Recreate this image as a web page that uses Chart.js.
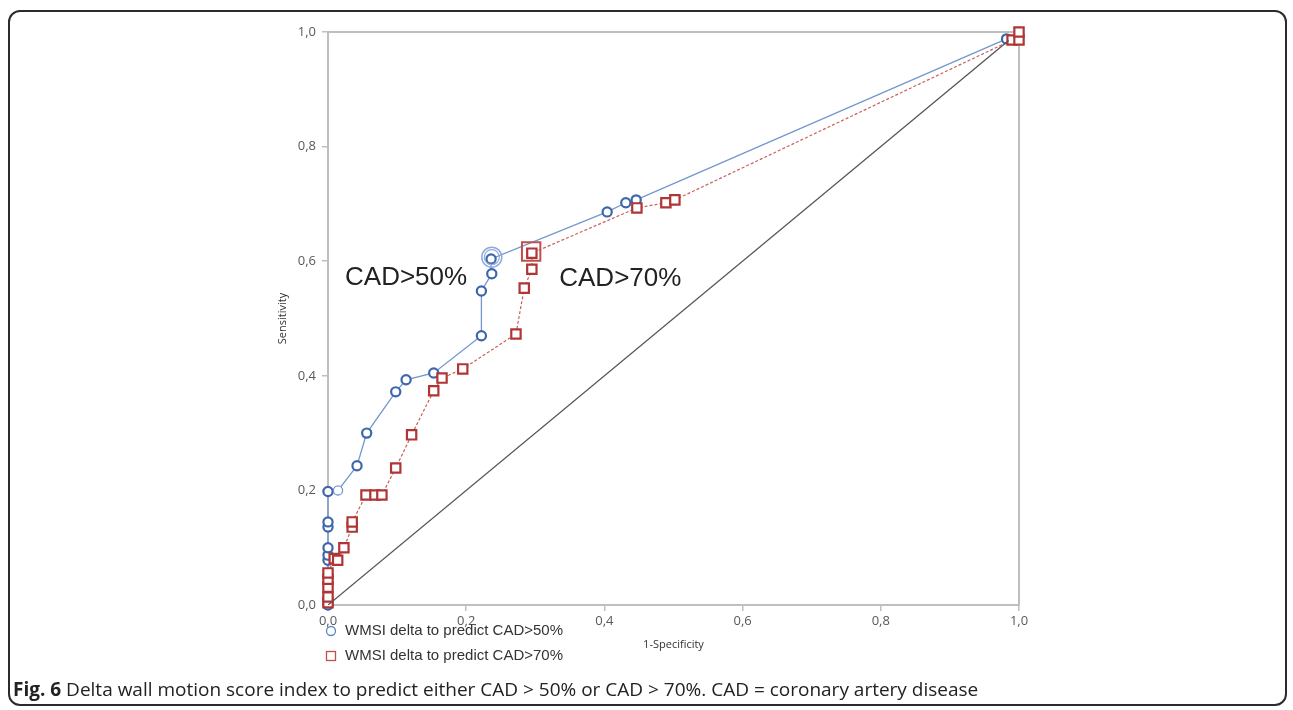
<!DOCTYPE html>
<html>
<head>
<meta charset="utf-8">
<script src="https://cdn.jsdelivr.net/npm/chart.js@4"></script>
<style>
  body { margin: 0; background: #fff; }
  #frame { position: absolute; left: 8px; top: 10px; width: 1275px; height: 692px;
           border: 2px solid #2b2b2b; border-radius: 12px; }
  #wrap { position: absolute; left: 0; top: 0; width: 1293px; height: 710px; }
  #caption { position: absolute; left: 13px; top: 676px; font-family: "Open Sans", sans-serif;
             font-size: 19px; color: #222; white-space: nowrap; letter-spacing: 0px; }
</style>
</head>
<body>
<div id="frame"></div>
<div id="wrap"><canvas id="roc" width="1293" height="710"></canvas></div>
<div id="caption"><b>Fig. 6</b> Delta wall motion score index to predict either CAD &gt; 50% or CAD &gt; 70%. CAD = coronary artery disease</div>
<script>
// ROC points
const blueX = [0, 0, 0, 0, 0, 0, 0, 0.0145, 0.042, 0.056, 0.098, 0.113, 0.153, 0.222, 0.222, 0.237, 0.236, 0.404, 0.431, 0.446, 0.982];
const blueY = [0, 0.078, 0.087, 0.100, 0.136, 0.145, 0.198, 0.200, 0.243, 0.300, 0.372, 0.393, 0.405, 0.470, 0.548, 0.578, 0.604, 0.686, 0.702, 0.707, 0.988];

const redX = [0, 0, 0, 0, 0, 0.009, 0.014, 0.023, 0.035, 0.035, 0.055, 0.068, 0.078, 0.098, 0.121, 0.153, 0.165, 0.195, 0.272, 0.284, 0.295, 0.295, 0.447, 0.489, 0.502, 0.99, 1.0, 1.0];
const redY = [0.004, 0.014, 0.031, 0.045, 0.056, 0.081, 0.078, 0.100, 0.136, 0.145, 0.192, 0.192, 0.192, 0.239, 0.297, 0.374, 0.396, 0.412, 0.473, 0.553, 0.586, 0.614, 0.693, 0.702, 0.707, 0.986, 0.986, 1.0];

// optimal cut-off points (highlighted): blue double ring, red big square
const cutX = [0.237, 0.237, 0.294];
const cutY = [0.607, 0.607, 0.617];

const refX = [0, 0.985];
const refY = [0, 0.985];

const xTicks = [0, 0.2, 0.4, 0.6, 0.8, 1.0];
const legendLabels = ['WMSI delta to predict CAD>50%', 'WMSI delta to predict CAD>70%'];
const curveLabels = ['CAD>50%', 'CAD>70%'];

const pts = (xs, ys) => xs.map((x, i) => ({x: x, y: ys[i]}));
const fmt = v => v.toFixed(1).replace('.', ',');

const boxPlugin = {
    id: 'box',
    beforeDatasetsDraw(chart) {
        const a = chart.chartArea, c = chart.ctx;
        c.save();
        c.strokeStyle = '#bfbfbf';
        c.lineWidth = 2;
        c.strokeRect(a.left, a.top, a.right - a.left, a.bottom - a.top);
        c.restore();
    },
    afterDraw(chart) {
        const c = chart.ctx, xs = chart.scales.x, ys = chart.scales.y;
        c.save();
        // curve labels
        c.font = '26px "Liberation Sans", Arial, sans-serif';
        c.fillStyle = '#222';
        c.textAlign = 'center';
        c.textBaseline = 'middle';
        c.fillText(curveLabels[0], xs.getPixelForValue(0.113), ys.getPixelForValue(0.571));
        c.fillText(curveLabels[1], xs.getPixelForValue(0.423), ys.getPixelForValue(0.569));
        // legend
        const lx = chart.chartArea.left + 3;
        const ly = chart.chartArea.bottom + 26;
        c.font = '15px "Liberation Sans", Arial, sans-serif';
        c.textAlign = 'left';
        c.fillStyle = '#333';
        c.fillText(legendLabels[0], lx + 14, ly);
        c.fillText(legendLabels[1], lx + 14, ly + 25);
        c.lineWidth = 1.3;
        c.strokeStyle = '#5b86c9';
        c.beginPath();
        c.arc(lx, ly, 4.5, 0, Math.PI * 2);
        c.stroke();
        c.strokeStyle = '#c0504d';
        c.strokeRect(lx - 4.5, ly + 25 - 4.5, 9, 9);
        c.restore();
    }
};

new Chart(document.getElementById('roc'), {
    type: 'scatter',
    data: {
        datasets: [
            {
                label: 'ref',
                data: pts(refX, refY),
                showLine: true,
                borderColor: '#555',
                borderWidth: 1.3,
                pointRadius: 0
            },
            {
                label: 'cut',
                data: pts(cutX, cutY),
                showLine: false,
                clip: false,
                pointStyle: ['circle', 'circle', 'rect'],
                pointRadius: [10, 7.5, 13],
                borderColor: ['#8faadc', '#8faadc', '#c0504d'],
                borderWidth: [1.5, 1.2, 2],
                backgroundColor: 'rgba(0,0,0,0)'
            },
            {
                label: legendLabels[1],
                data: pts(redX, redY),
                showLine: true,
                clip: false,
                borderColor: '#c8605c',
                borderDash: [3, 2],
                borderWidth: 1.2,
                pointStyle: 'rect',
                pointRadius: 6.6,
                pointBorderColor: '#b03535',
                pointBorderWidth: 2.2,
                pointBackgroundColor: '#fff'
            },
            {
                label: legendLabels[0],
                data: pts(blueX, blueY),
                showLine: true,
                clip: false,
                borderColor: '#7396cf',
                borderWidth: 1.3,
                pointStyle: 'circle',
                pointRadius: 4.6,
                pointBorderColor: blueX.map((x, i) => i === 7 ? '#7396cf' : '#3d66ab'),
                pointBorderWidth: blueX.map((x, i) => i === 7 ? 1.3 : 2.2),
                pointBackgroundColor: '#fff'
            }
        ]
    },
    options: {
        responsive: false,
        animation: false,
        layout: { padding: { left: 270, top: 32, right: 274, bottom: 55 } },
        plugins: {
            legend: { display: false },
            tooltip: { enabled: false }
        },
        scales: {
            x: {
                type: 'linear',
                min: 0, max: 1,
                afterBuildTicks: s => { s.ticks = xTicks.map(v => ({value: v})); },
                afterFit: s => { s.height = 50; },
                border: { display: false },
                grid: { drawOnChartArea: false, color: '#bfbfbf', tickLength: 6, lineWidth: 1.5 },
                ticks: { callback: v => fmt(v), color: '#595959', padding: 2,
                         font: { family: 'Open Sans', size: 13 } },
                title: { display: true, text: '1-Specificity', color: '#333',
                         font: { family: 'Open Sans', size: 11 }, padding: { top: 3 } }
            },
            y: {
                type: 'linear',
                min: 0, max: 1,
                afterBuildTicks: s => { s.ticks = xTicks.map(v => ({value: v})); },
                afterFit: s => { s.width = 58; },
                border: { display: false },
                grid: { drawOnChartArea: false, color: '#bfbfbf', tickLength: 6, lineWidth: 1.5 },
                ticks: { callback: v => fmt(v), color: '#595959', padding: 6,
                         font: { family: 'Open Sans', size: 13 } },
                title: { display: true, text: 'Sensitivity', color: '#333',
                         font: { family: 'Open Sans', size: 11 }, padding: { top: 6 } }
            }
        }
    },
    plugins: [boxPlugin]
});
</script>
</body>
</html>
